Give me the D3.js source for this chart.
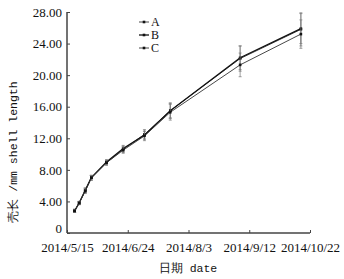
<!DOCTYPE html>
<html>
<head>
<meta charset="utf-8">
<script src="https://cdn.jsdelivr.net/npm/d3@7"></script>
<style>
  body { margin: 0; background: #fff; }
  text { font-family: "Liberation Serif", "DejaVu Serif", serif; fill: #111; }
</style>
</head>
<body>
<svg id="chart" width="344" height="279"></svg>
<script>
const dates = ['2014-05-20', '2014-05-23', '2014-05-27', '2014-05-31', '2014-06-10',
  '2014-06-21', '2014-07-05', '2014-07-22', '2014-09-06', '2014-10-16'];
const seriesNames = ['A', 'B', 'C'];
const valuesA = [2.8, 3.8, 5.4, 7.0, 8.9, 10.6, 12.5, 15.5, 22.1, 25.8];
const valuesB = [2.8, 3.8, 5.4, 7.0, 9.0, 10.7, 12.4, 15.5, 22.2, 25.9];
const valuesC = [2.8, 3.8, 5.3, 7.0, 8.9, 10.5, 12.3, 15.3, 21.3, 25.2];
const errA = [0.2, 0.2, 0.3, 0.3, 0.3, 0.4, 0.6, 1.0, 1.6, 2.1];
const errB = [0.2, 0.2, 0.3, 0.3, 0.3, 0.4, 0.5, 0.9, 1.5, 1.9];
const errC = [0.2, 0.2, 0.3, 0.3, 0.3, 0.4, 0.6, 1.0, 1.5, 1.8];
const xTicks = ['2014-05-15', '2014-06-24', '2014-08-03', '2014-09-12', '2014-10-22'];
const yTicks = [0, 4, 8, 12, 16, 20, 24, 28];

const parse = d3.timeParse('%Y-%m-%d');
const svg = d3.select('#chart');

const x = d3.scaleTime()
  .domain([parse(xTicks[0]), parse(xTicks[xTicks.length - 1])])
  .range([67, 310]);
const y = d3.scaleLinear().domain([0, 28]).range([233, 12]);

// axes, ticks drawn inward
const xAxis = d3.axisBottom(x)
  .tickValues(xTicks.map(parse))
  .tickSize(-3)
  .tickPadding(6)
  .tickFormat(d3.timeFormat('%Y/%-m/%-d'));
const yAxis = d3.axisLeft(y)
  .tickValues(yTicks)
  .tickSize(-3)
  .tickPadding(5)
  .tickFormat(d => (d === 0 ? '0' : d3.format('.2f')(d)));

const gx = svg.append('g').attr('transform', 'translate(0,233)').call(xAxis);
const gy = svg.append('g').attr('transform', 'translate(67,0)').call(yAxis);
[gx, gy].forEach(g => {
  g.select('.domain').attr('stroke', '#444').attr('stroke-width', 1.5);
  g.selectAll('.tick line').attr('stroke', '#444');
  g.selectAll('.tick text')
    .style('font-family', '"Liberation Serif", serif')
    .style('font-size', '13px')
    .attr('fill', '#111');
});
gx.select('.domain').attr('d', 'M67,0H310');
gy.select('.domain').attr('d', 'M0,12V233');
gx.selectAll('.tick text').attr('dy', '1.0em');
// lift the "0" label so it sits above the date labels
gy.selectAll('.tick text').filter(d => d === 0).attr('dy', '-0.05em');

const series = [
  { name: 'A', values: valuesA, err: errA, width: 0.9, color: '#333' },
  { name: 'B', values: valuesB, err: errB, width: 1.3, color: '#111' },
  { name: 'C', values: valuesC, err: errC, width: 0.9, color: '#333' },
];

const line = d3.line()
  .x(d => x(d.date))
  .y(d => y(d.v));

series.forEach((s, si) => {
  const pts = dates.map((dt, i) => ({ date: parse(dt), v: s.values[i], e: s.err[i] }));
  const g = svg.append('g');

  // error bars
  const eb = g.selectAll('g.err').data(pts).enter().append('g');
  eb.append('line')
    .attr('x1', d => x(d.date)).attr('x2', d => x(d.date))
    .attr('y1', d => y(d.v - d.e)).attr('y2', d => y(d.v + d.e))
    .attr('stroke', '#777').attr('stroke-width', 0.7);
  eb.selectAll('line.cap')
    .data(d => [d.v - d.e, d.v + d.e].map(v => ({ date: d.date, v })))
    .enter().append('line')
    .attr('x1', d => x(d.date) - 1.5).attr('x2', d => x(d.date) + 1.5)
    .attr('y1', d => y(d.v)).attr('y2', d => y(d.v))
    .attr('stroke', '#777').attr('stroke-width', 0.7);

  g.append('path')
    .datum(pts)
    .attr('fill', 'none')
    .attr('stroke', s.color)
    .attr('stroke-width', s.width)
    .attr('d', line);

  g.selectAll('rect').data(pts).enter().append('rect')
    .attr('x', d => x(d.date) - 1.3)
    .attr('y', d => y(d.v) - 1.3)
    .attr('width', 2.6).attr('height', 2.6)
    .attr('fill', '#111');
});

// legend
const legend = svg.append('g').attr('transform', 'translate(139,22)');
series.forEach((s, i) => {
  const row = legend.append('g').attr('transform', `translate(0,${i * 13})`);
  row.append('line').attr('x1', 0).attr('x2', 10).attr('y1', 0).attr('y2', 0)
    .attr('stroke', s.color).attr('stroke-width', s.width);
  row.append('rect').attr('x', 3.7).attr('y', -1.3).attr('width', 2.6).attr('height', 2.6)
    .attr('fill', '#111');
  row.append('text').attr('x', 12).attr('y', 0).attr('dy', '0.33em')
    .style('font-size', '12px').text(seriesNames[i]);
});

// axis titles
svg.append('text')
  .attr('x', 188).attr('y', 272)
  .attr('text-anchor', 'middle')
  .style('font-family', '"Liberation Mono", monospace')
  .style('font-size', '11.5px')
  .text('日期 date');

svg.append('text')
  .attr('transform', 'translate(17,152) rotate(-90)')
  .attr('text-anchor', 'middle')
  .style('font-family', '"Liberation Mono", monospace')
  .style('font-size', '11.5px')
  .text('壳长 /mm shell length');
</script>
</body>
</html>
